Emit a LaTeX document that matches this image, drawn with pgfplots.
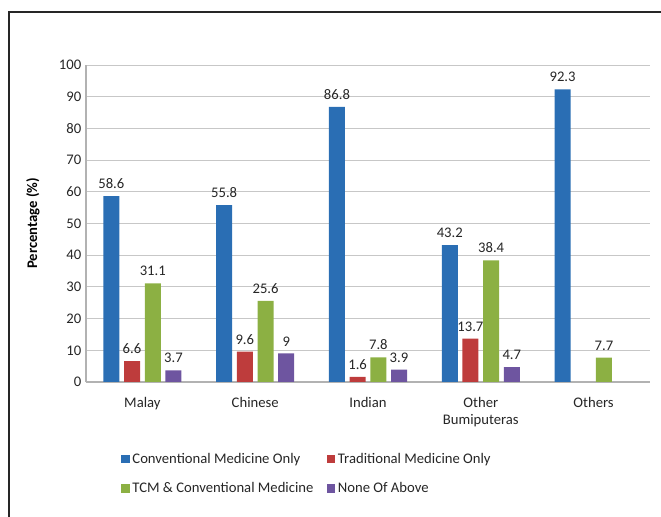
\documentclass[border=0pt]{standalone}
\usepackage{fontspec}
\setmainfont{Carlito}
\usepackage{pgfplots}
\pgfplotsset{compat=1.18}
\definecolor{cblue}{HTML}{2A6EB4}
\definecolor{cred}{HTML}{BE3C3C}
\definecolor{cgreen}{HTML}{8CB043}
\definecolor{cpurple}{HTML}{6E55A0}
\definecolor{ctext}{HTML}{262626}
\begin{document}
\begin{tikzpicture}
\useasboundingbox (0pt,0pt) rectangle (495.75pt,387.75pt);
\draw[line width=2pt, color=black!85] (6.75pt,0pt) -- (6.75pt,378.75pt) -- (495.75pt,378.75pt);
\begin{axis}[
  at={(64.5pt,101.25pt)}, anchor=south west,
  scale only axis, width=423pt, height=237.75pt,
  xmin=-0.5, xmax=4.5, ymin=0, ymax=100,
  ytick={0,10,...,100},
  xtick={0,1,2,3,4},
  xticklabels={Malay,Chinese,Indian,{Other\\Bumiputeras},Others},
  xticklabel style={align=center, yshift=-8pt, font=\fontsize{11}{13}\selectfont, text=ctext},
  yticklabel style={font=\fontsize{11}{13}\selectfont, text=ctext},
  /pgf/number format/assume math mode=true,
  major tick length=0pt,
  axis x line*=bottom, axis y line*=left,
  axis line style={draw=black!30, line width=0.8pt},
  ymajorgrids, grid style={draw=black!22, line width=0.7pt},
  ybar, bar width=0.142,
  clip=false,
  ylabel={\textbf{Percentage (\%)}},
  ylabel style={at={(axis description cs:-0.094,0.5)}, anchor=center, font=\fontsize{11}{13}\selectfont, text=black},
  nodes near coords,
  every node near coord/.append style={font=\fontsize{11}{13}\selectfont, text=ctext, yshift=2pt},
  legend columns=2,
  legend style={at={(axis description cs:0.062,-0.215)}, anchor=north west, draw=none, fill=none,
    font=\fontsize{11}{13}\selectfont, text=ctext,
    /tikz/every even column/.append style={column sep=8pt},
    row sep=9pt, inner sep=0pt},
  legend cell align=left,
  legend image code/.code={\fill[#1] (0pt,-3.2pt) rectangle (6.4pt,3.2pt);},
]
\addplot[fill=cblue, draw=none, bar shift=-0.275] coordinates {(0,58.6) (1,55.8) (2,86.8) (3,43.2) (4,92.3)};
\addplot[fill=cred, draw=none, bar shift=-0.092] coordinates {(0,6.6) (1,9.6) (2,1.6) (3,13.7)};
\addplot[fill=cgreen, draw=none, bar shift=0.092] coordinates {(0,31.1) (1,25.6) (2,7.8) (3,38.4) (4,7.7)};
\addplot[fill=cpurple, draw=none, bar shift=0.275] coordinates {(0,3.7) (1,9) (2,3.9) (3,4.7)};
\legend{Conventional Medicine Only, Traditional Medicine Only, TCM \& Conventional Medicine, None Of Above}
\end{axis}
\end{tikzpicture}
\end{document}
